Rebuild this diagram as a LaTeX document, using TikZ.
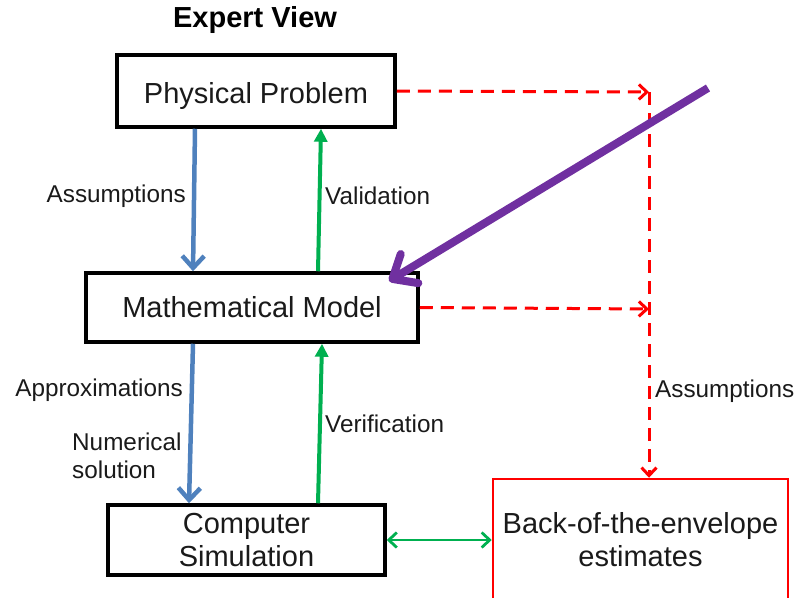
\documentclass[tikz,border=0pt]{standalone}
\usepackage{fontspec}
\setmainfont{Liberation Sans}
\usepackage{tikz}
\usetikzlibrary{arrows.meta,positioning,calc}
\usepackage{xcolor}
\definecolor{boxblue}{HTML}{4F81BD}
\definecolor{okgreen}{HTML}{00B050}
\definecolor{warnred}{HTML}{FF0000}
\definecolor{hintpurple}{HTML}{7030A0}
\definecolor{ink}{HTML}{1A1A1A}

\begin{document}
\begin{tikzpicture}[x=1pt, y=-1pt,
  stagebox/.style={draw=black, line width=3.5pt, fill=white, inner sep=0pt, align=center, text=ink, font=\fontsize{29}{34}\selectfont},
  estbox/.style={draw=warnred, line width=2.5pt, fill=white, inner sep=0pt, align=center, text=ink, font=\fontsize{29}{34}\selectfont},
  lbl/.style={inner sep=0pt, text=ink, font=\fontsize{24.3}{29}\selectfont},
  downarr/.style={boxblue, line width=4.5pt, -{Straight Barb[length=12pt,width=22pt]}},
  uparr/.style={okgreen, line width=4pt, -{Triangle[length=13pt,width=13pt]}},
  reddash/.style={warnred, line width=3pt, dash pattern=on 13pt off 8pt, -{Straight Barb[length=8pt,width=15pt]}},
  linkarr/.style={okgreen, line width=2.8pt, {Straight Barb[length=8pt,width=15pt]}-{Straight Barb[length=8pt,width=15pt]}},
  hintarr/.style={hintpurple, line width=8pt, -{Straight Barb[length=20pt,width=34pt,round]}}]
  \useasboundingbox (0,0) rectangle (808,597);
  \clip (0,0) rectangle (808,597);
  % title
  \node[inner sep=0pt, text=black, font=\bfseries\fontsize{29}{34}\selectfont] (title) at (255,20) {Expert View};
  % stages
  \node[stagebox, minimum width=278pt, minimum height=72pt, text height=24pt, text depth=0pt] (pp) at (256,91) {Physical Problem};
  \node[stagebox, minimum width=332pt, minimum height=69pt] (mm) at (252,307.5) {Mathematical Model};
  \node[stagebox, minimum width=277pt, minimum height=70pt] (cs) at (246.5,540) {Computer\\[-1pt]Simulation};
  \node[estbox, minimum width=295pt, minimum height=122pt] (be) at (640.5,540) {Back-of-the-envelope\\[-1pt]estimates};
  % vertical links
  \draw[downarr] ([xshift=-61pt]pp.south) -- ([xshift=-59pt]mm.north);
  \draw[uparr] ([xshift=66pt]mm.north) -- ([xshift=65pt]pp.south);
  \draw[downarr] ([xshift=-59pt]mm.south) -- ([xshift=-57.5pt]cs.north);
  \draw[uparr] ([xshift=71.5pt]cs.north) -- ([xshift=70pt]mm.south);
  \node[lbl, anchor=east] (l1) at (186,196) {Assumptions};
  \node[lbl, anchor=west] (l2) at (325,196) {Validation};
  \node[lbl, anchor=east] (l3) at (183,390) {Approximations};
  \node[lbl, anchor=west, align=left] (l4) at (72,456) {Numerical\\[-1pt]solution};
  \node[lbl, anchor=west] (l5) at (325,424) {Verification};
  % shortcut path
  \coordinate (j1) at (649,92);
  \coordinate (j2) at (649,309);
  \draw[reddash] (pp.east) -- (j1);
  \draw[reddash] (mm.east) -- (j2);
  \draw[reddash] (j1) -- (be.north -| j1);
  \node[lbl, anchor=west] (l6) at (655,391) {Assumptions};
  \draw[linkarr] (cs.east) -- (be.west);
  % pointer
  \coordinate (pstart) at (708,88);
  \coordinate (ptip) at (389,281);
  \draw[hintarr] (pstart) -- (ptip);
\end{tikzpicture}
\end{document}
